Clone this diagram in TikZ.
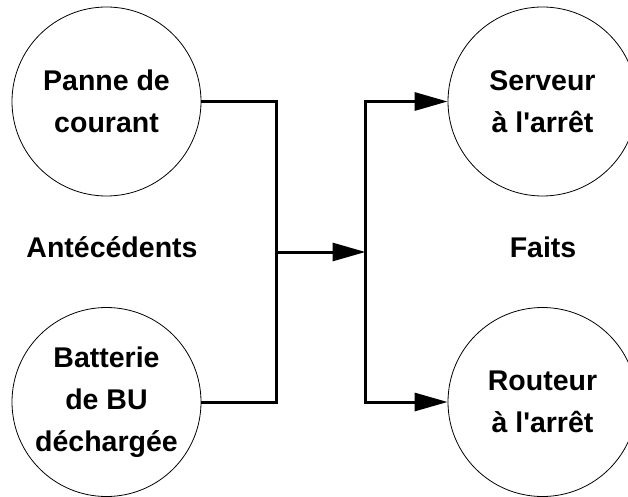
\documentclass[tikz,border=0pt]{standalone}
\usepackage{fontspec}
\setmainfont{Liberation Sans}[Ligatures=TeXOff]
\usetikzlibrary{arrows.meta}
\begin{document}
\begin{tikzpicture}[x=1pt,y=-1pt,
  circ/.style={draw,line width=0.8pt,circle,minimum size=189pt,inner sep=0pt,align=center,
    font=\fontsize{28.5}{42}\selectfont\bfseries},
  lbl/.style={anchor=base,font=\fontsize{28.5}{42}\selectfont\bfseries},
  conn/.style={line width=3pt},
  arr/.style={conn,-{Triangle[length=33pt,width=18pt]}}]
\useasboundingbox (0,0) rectangle (628,497);
\node[circ] (tl) at (106.5,101.5) {Panne de\\courant};
\node[circ] (bl) at (106.5,402) {Batterie\\de BU\\déchargée};
\node[circ] (tr) at (542.5,101.5) {Serveur\\à l\textquotesingle arrêt};
\node[circ] (br) at (542.5,402) {Routeur\\à l\textquotesingle arrêt};
\node[lbl] (ant) at (112,257) {Antécédents};
\node[lbl] (fai) at (543,257) {Faits};
\coordinate (j) at (276,252);
\coordinate (s) at (365.5,252);
\draw[conn] (tl.east) -| (j) |- (bl.east);
\draw[arr] (j) -- (s);
\draw[arr] (s) |- (tr.west);
\draw[arr] (s) |- (br.west);
\draw[conn] (s |- tr.west) -- (s |- br.west);
\end{tikzpicture}
\end{document}
